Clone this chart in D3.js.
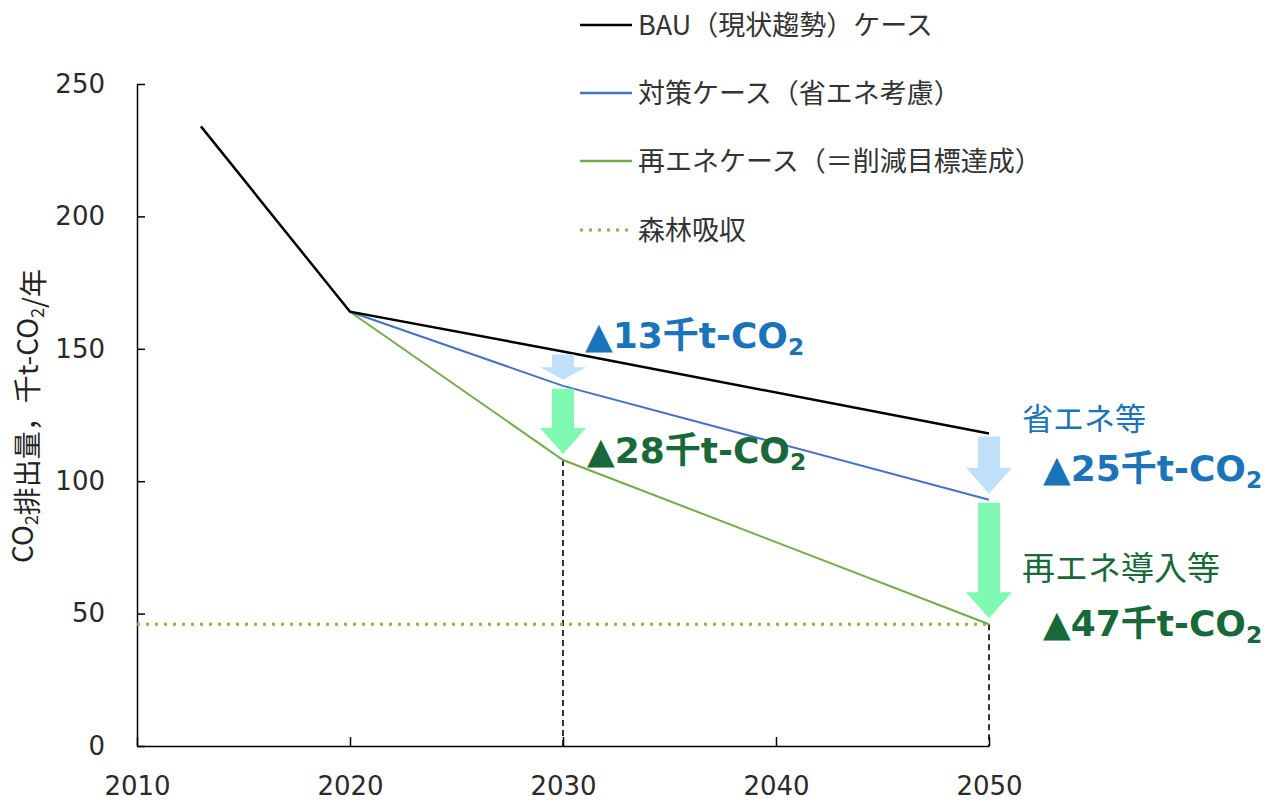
<!DOCTYPE html>
<html>
<head>
<meta charset="utf-8">
<script src="https://cdn.jsdelivr.net/npm/d3@7"></script>
<style>
  body { margin: 0; background: #fff; }
  text { font-family: "DejaVu Sans", "Noto Sans CJK JP", sans-serif; }
  .jp { font-family: "Noto Sans CJK JP", sans-serif; }
</style>
</head>
<body>
<div id="chart"></div>
<script>
// ---- data ----
var xTicks = [2010, 2020, 2030, 2040, 2050];
var yTicks = [0, 50, 100, 150, 200, 250];

var bauYears = [2013, 2020, 2030, 2050];
var bauValues = [234, 164, 149, 118];

var taisakuYears = [2020, 2030, 2050];
var taisakuValues = [164, 136, 93];

var saieneYears = [2020, 2030, 2050];
var saieneValues = [164, 108, 46];

var forestYears = [2010, 2050];
var forestValues = [46, 46];

var legendLabels = [
  "BAU（現状趨勢）ケース",
  "対策ケース（省エネ考慮）",
  "再エネケース（＝削減目標達成）",
  "森林吸収"
];

// reductions shown as arrows + labels
var cutYears = [2030, 2030, 2050, 2050];
var cutFrom = [149, 136, 118, 93];
var cutTo = [136, 108, 93, 46];
var cutAmounts = [13, 28, 25, 47];
var cutKind = ["shoene", "saiene", "shoene", "saiene"];

var svgWidth = 1287;
var svgHeight = 805;

var svg = d3.select("#chart")
  .append("svg")
  .attr("width", svgWidth)
  .attr("height", svgHeight);

var x = d3.scaleLinear().domain([2010, 2050]).range([137, 989]);
var y = d3.scaleLinear().domain([0, 250]).range([746, 84]);

var colors = {
  bau: "#000000",
  taisaku: "#4472c4",
  saiene: "#70ad47",
  forest: "#7dbb4c",
  blueText: "#1b74ba",
  greenText: "#17693a",
  blueArrow: "#bfe0f8",
  greenArrow: "#80fab2"
};

// axes
var yAxis = d3.axisLeft(y)
  .tickValues(yTicks)
  .tickSizeInner(-8)
  .tickSizeOuter(0)
  .tickPadding(32);

var xAxis = d3.axisBottom(x)
  .tickValues(xTicks)
  .tickFormat(d3.format("d"))
  .tickSizeInner(-9)
  .tickSizeOuter(0)
  .tickPadding(31);

var gy = svg.append("g")
  .attr("transform", "translate(" + x(2010) + ",0)")
  .call(yAxis);

var gx = svg.append("g")
  .attr("transform", "translate(0," + y(0) + ")")
  .call(xAxis);

[gx, gy].forEach(function(g) {
  g.selectAll("path, line").attr("stroke", "#000").attr("stroke-width", 1.5);
  g.selectAll("text")
    .attr("fill", "#2a2a2a")
    .style("font-family", "DejaVu Sans")
    .style("font-size", "26px");
});

// text with subscript "2"
function subText(sel, parts) {
  parts.forEach(function(p) {
    if (p.sub) {
      sel.append("tspan").attr("dy", "0.3em").style("font-size", "0.65em").text(p.t);
      sel.append("tspan").attr("dy", "-0.3em").text("");
    } else {
      sel.append("tspan").text(p.t);
    }
  });
}

var yTitle = svg.append("text")
  .attr("class", "jp")
  .attr("transform", "translate(33,416) rotate(-90)")
  .attr("text-anchor", "middle")
  .attr("fill", "#222")
  .style("font-size", "28px");
subText(yTitle, [{t: "CO"}, {t: "2", sub: true}, {t: "排出量，千t-CO"}, {t: "2", sub: true}, {t: "/年"}]);

// dashed drop lines from the target points
var dropYears = [2030, 2050];
var dropValues = [saieneValues[1], saieneValues[2]];
svg.selectAll(".drop")
  .data(dropYears)
  .enter()
  .append("line")
  .attr("x1", d => x(d))
  .attr("x2", d => x(d))
  .attr("y1", (d, i) => y(dropValues[i]))
  .attr("y2", y(0))
  .attr("stroke", "#000")
  .attr("stroke-width", 1.6)
  .attr("stroke-dasharray", "6,4");

// lines
var line = d3.line()
  .x(d => x(d[0]))
  .y(d => y(d[1]));

function zip(a, b) { return a.map((v, i) => [v, b[i]]); }

svg.append("path")
  .datum(zip(forestYears, forestValues))
  .attr("d", line)
  .attr("fill", "none")
  .attr("stroke", colors.forest)
  .attr("stroke-width", 3)
  .attr("stroke-dasharray", "3,6");

svg.append("path")
  .datum(zip(saieneYears, saieneValues))
  .attr("d", line)
  .attr("fill", "none")
  .attr("stroke", colors.saiene)
  .attr("stroke-width", 2);

svg.append("path")
  .datum(zip(taisakuYears, taisakuValues))
  .attr("d", line)
  .attr("fill", "none")
  .attr("stroke", colors.taisaku)
  .attr("stroke-width", 2);

svg.append("path")
  .datum(zip(bauYears, bauValues))
  .attr("d", line)
  .attr("fill", "none")
  .attr("stroke", colors.bau)
  .attr("stroke-width", 2.5);

// arrows
function arrowPath(i) {
  var cx = x(cutYears[i]);
  var y1 = y(cutFrom[i]) + 3;
  var y2 = y(cutTo[i]) - 6;
  var len = y2 - y1;
  var head = Math.min(26, len * 0.5);
  var sw = 11, hw = 23;
  return "M" + (cx - sw) + "," + y1 +
    "L" + (cx + sw) + "," + y1 +
    "L" + (cx + sw) + "," + (y2 - head) +
    "L" + (cx + hw) + "," + (y2 - head) +
    "L" + cx + "," + y2 +
    "L" + (cx - hw) + "," + (y2 - head) +
    "L" + (cx - sw) + "," + (y2 - head) + "Z";
}

svg.selectAll(".arrow")
  .data(cutYears)
  .enter()
  .append("path")
  .attr("d", (d, i) => arrowPath(i))
  .attr("fill", (d, i) => cutKind[i] === "shoene" ? colors.blueArrow : colors.greenArrow);

// reduction labels
var cutLabelPos = [
  {dx: 22, y: 348},
  {dx: 24, y: 463},
  {dx: 54, y: 481},
  {dx: 54, y: 636}
];

cutAmounts.forEach(function(v, i) {
  var t = svg.append("text")
    .attr("x", x(cutYears[i]) + cutLabelPos[i].dx)
    .attr("y", cutLabelPos[i].y)
    .attr("fill", cutKind[i] === "shoene" ? colors.blueText : colors.greenText)
    .style("font-size", "36px")
    .style("font-weight", "bold");
  subText(t, [{t: "▲" + v + "千t-CO"}, {t: "2", sub: true}]);
});

svg.append("text")
  .attr("class", "jp")
  .attr("x", x(2050) + 33)
  .attr("y", 430)
  .attr("fill", colors.blueText)
  .style("font-size", "31px")
  .text("省エネ等");

svg.append("text")
  .attr("class", "jp")
  .attr("x", x(2050) + 33)
  .attr("y", 580)
  .attr("fill", colors.greenText)
  .style("font-size", "33px")
  .text("再エネ導入等");

// legend
var legendY = [25, 93, 161, 230];
var legendColors = [colors.bau, colors.taisaku, colors.saiene, colors.forest];
var legendDash = [null, null, null, "3,6"];

var legend = svg.append("g");
legendLabels.forEach(function(label, i) {
  legend.append("line")
    .attr("x1", 580)
    .attr("x2", 632)
    .attr("y1", legendY[i])
    .attr("y2", legendY[i])
    .attr("stroke", legendColors[i])
    .attr("stroke-width", i === 3 ? 3 : 2.5)
    .attr("stroke-dasharray", legendDash[i]);
  legend.append("text")
    .attr("class", "jp")
    .attr("x", 638)
    .attr("y", legendY[i])
    .attr("dy", "0.36em")
    .attr("fill", "#333")
    .style("font-size", "27px")
    .text(label);
});
</script>
</body>
</html>
